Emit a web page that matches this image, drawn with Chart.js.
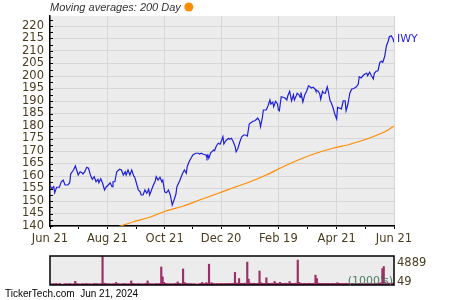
<!DOCTYPE html>
<html>
<head>
<meta charset="utf-8">
<script src="https://cdn.jsdelivr.net/npm/chart.js@4"></script>
<style>
  html, body { margin: 0; padding: 0; background: #ffffff; }
  #wrap { position: relative; width: 450px; height: 300px; overflow: hidden; }
  #main { position: absolute; left: 0; top: 0; }
  #vol { position: absolute; left: 0; top: 250px; }
</style>
</head>
<body>
<div id="wrap">
  <canvas id="main" width="450" height="250"></canvas>
  <canvas id="vol" width="450" height="50"></canvas>
</div>
<script>
// ---- DATA ----
const symbol = 'IWY';
const maLabel = 'Moving averages: 200 Day';
const footerText = 'TickerTech.com  Jun 21, 2024';
const volUnitText = "(1000's)";

// x tick days (calendar days after Jun 21, 2023) and labels
const xTickDays = [0, 61, 122, 182, 243, 305, 366];
const xTickLabels = ['Jun 21', 'Aug 21', 'Oct 21', 'Dec 20', 'Feb 19', 'Apr 21', 'Jun 21'];

// price (days after Jun 21, 2023)
const priceDays = [
  0,2,4,5,7,10,12,14,16,19,21,22,25,27,30,32,34,35,37,39,41,43,45,47,49,51,52,54,56,58,
  60,62,64,66,67,69,71,74,76,78,80,81,83,85,87,89,90,92,94,96,97,99,101,103,105,106,108,110,112,113,
  115,117,119,120,122,124,126,128,129,130,132,134,135,138,141,143,145,146,148,150,152,155,158,159,161,163,166,167,168,169,
  171,174,175,177,179,181,182,184,185,187,190,191,193,195,197,198,200,202,204,206,208,210,212,213,216,218,220,221,223,224,
  226,227,230,232,234,235,237,238,240,242,243,244,246,248,250,252,253,255,257,259,260,262,263,265,266,267,269,271,273,275,
  276,278,280,282,283,285,287,288,290,291,293,295,296,298,299,301,303,305,306,308,310,312,314,315,317,319,321,322,324,326,
  328,329,331,333,335,337,338,340,342,344,345,347,349,351,353,354,356,358,360,361,363,365,366
];
const priceValues = [
  156.1,155.0,155.7,153.3,155.5,155.5,157.7,158.4,156.4,156.4,157.3,160.8,162.4,164.0,160.4,161.7,161.3,160.8,161.7,163.5,163.1,160.4,158.7,159.7,157.7,158.7,157.3,158.9,157.1,154.4,
  155.7,156.4,157.3,155.7,157.7,157.7,161.7,162.7,162.4,160.4,161.7,160.4,162.4,160.4,162.4,160.0,159.7,157.1,154.4,153.7,152.4,152.4,154.4,153.1,154.7,152.4,154.4,156.4,158.0,159.7,
  158.4,159.5,157.7,158.4,153.7,153.3,154.4,152.4,150.4,148.4,150.4,152.8,155.7,158.1,161.0,162.4,161.1,163.7,165.7,167.1,168.4,169.1,169.1,168.8,169.1,168.7,168.4,167.3,168.4,167.1,
  169.3,170.4,170.1,172.0,173.1,172.7,173.7,175.7,172.8,174.1,175.1,174.7,175.1,173.7,171.7,169.7,171.1,173.7,175.7,176.4,176.4,176.0,180.8,181.1,181.9,182.1,182.8,183.2,181.9,179.7,
  183.5,186.4,186.4,188.1,190.4,188.8,189.5,187.7,189.9,188.8,186.4,186.1,191.7,191.5,191.2,190.4,192.1,193.9,190.1,192.5,190.4,192.1,193.1,192.5,191.5,193.5,189.6,192.4,193.9,196.1,
  195.9,195.2,195.5,194.8,193.9,194.1,192.8,190.7,193.9,193.3,193.1,195.7,194.1,190.1,189.5,187.5,184.8,182.8,187.5,187.2,186.8,190.1,190.1,186.1,188.8,193.1,194.8,194.8,195.2,195.7,
  196.8,199.7,199.2,200.1,200.8,201.1,200.1,201.5,200.1,198.8,201.1,201.9,202.1,205.5,205.9,205.5,207.7,212.1,214.1,215.7,216.1,214.8,213.5
];

// 200-day moving average
const maDays = [71, 89, 106, 124, 142, 159, 177, 195, 213, 230, 248, 266, 283, 301, 319, 337, 354, 361, 366];
const maValues = [139.5, 141.7, 143.5, 146.1, 148.0, 150.4, 152.8, 155.3, 157.7, 160.4, 163.7, 166.7, 169.1, 171.1, 172.7, 174.8, 177.3, 178.7, 180.0];

// daily volume (1000's), one per trading day
const volume = [
  210,180,230,195,260,170,220,240,150,90,200,230,185,210,250,190,175,220,620,240,
  200,185,160,230,210,195,240,220,180,205,170,190,260,230,215,200,185,240,4889,310,
  260,230,200,215,190,175,240,210,430,230,200,180,220,195,250,210,185,230,200,690,
  280,230,210,190,240,205,220,180,200,230,250,690,260,220,200,185,210,240,230,195,
  260,3040,1380,450,280,240,215,200,230,190,210,250,230,520,280,240,220,2700,420,300,
  250,230,210,240,200,190,220,49,180,210,260,430,240,230,400,280,3510,300,380,260,
  240,220,250,230,210,270,240,220,260,230,250,280,240,300,270,2130,350,280,1090,300,
  270,250,310,280,3860,990,330,280,260,300,270,250,290,2350,380,300,260,280,1210,320,
  280,260,300,270,600,310,280,250,450,290,260,280,300,270,250,570,300,280,260,290,
  310,4200,430,300,280,260,290,270,250,300,280,260,290,270,1660,1090,320,290,270,260,
  280,250,270,290,260,240,280,270,250,260,400,280,260,240,270,250,280,260,240,230,
  250,270,240,260,230,250,270,240,260,250,230,240,260,250,270,240,230,250,260,280,
  300,320,360,2770,3110,420,310,280,300,270,330,290
];

// ---- STYLE ----
const plotBg = '#ececec';
const gridColor = '#d6d6d6';
const tickTextColor = '#4a3c20';
const priceColor = '#1f1fdc';
const maColor = '#ff8c00';
const volColor = '#9b2f67';
const tickFont = { family: 'DejaVu Sans', size: 11.5 };

const bgPlugin = {
  id: 'bg',
  beforeDraw(chart) {
    const { ctx, chartArea: a } = chart;
    ctx.save();
    ctx.fillStyle = plotBg;
    ctx.fillRect(a.left, a.top, a.right - a.left, a.bottom - a.top);
    ctx.restore();
  }
};

const mainDeco = {
  id: 'mainDeco',
  afterDraw(chart) {
    const { ctx, chartArea: a } = chart;
    const ys = chart.scales.y;
    ctx.save();
    // inward y ticks
    ctx.strokeStyle = '#000';
    ctx.lineWidth = 1;
    ys.ticks.forEach(t => {
      const py = Math.round(ys.getPixelForValue(t.value)) + 0.5;
      ctx.beginPath();
      ctx.moveTo(a.left, py);
      ctx.lineTo(a.left + 3, py);
      ctx.stroke();
    });
    // title
    ctx.font = 'italic 11px "Liberation Sans", Arial, sans-serif';
    ctx.fillStyle = '#333333';
    ctx.textBaseline = 'middle';
    ctx.textAlign = 'left';
    ctx.fillText(maLabel, a.left, 8);
    const w = ctx.measureText(maLabel).width;
    ctx.fillStyle = maColor;
    ctx.beginPath();
    ctx.arc(a.left + w + 8, 7, 4.5, 0, Math.PI * 2);
    ctx.fill();
    // symbol label at last price point
    const meta = chart.getDatasetMeta(0);
    const last = meta.data[meta.data.length - 1];
    ctx.font = '11px "DejaVu Sans", sans-serif';
    ctx.fillStyle = priceColor;
    ctx.fillText(symbol, last.x + 3, last.y - 3);
    ctx.restore();
  }
};

new Chart(document.getElementById('main'), {
  type: 'line',
  data: {
    datasets: [
      {
        label: symbol,
        data: priceDays.map((d, i) => ({ x: d, y: priceValues[i] })),
        borderColor: priceColor,
        borderWidth: 1.2,
        pointRadius: 0,
        tension: 0
      },
      {
        label: '200 Day',
        data: maDays.map((d, i) => ({ x: d, y: maValues[i] })),
        borderColor: maColor,
        borderWidth: 1.2,
        pointRadius: 0,
        tension: 0.3
      }
    ]
  },
  options: {
    responsive: false,
    animation: false,
    devicePixelRatio: 1,
    layout: { padding: { left: 0, right: 56, top: 16, bottom: 0 } },
    plugins: { legend: { display: false }, tooltip: { enabled: false } },
    scales: {
      x: {
        type: 'linear',
        min: xTickDays[0],
        max: xTickDays[xTickDays.length - 1],
        afterBuildTicks(s) {
          const t = [];
          xTickDays.forEach((d, i) => {
            t.push({ value: d });
            if (i < xTickDays.length - 1) t.push({ value: (d + xTickDays[i + 1]) / 2 });
          });
          s.ticks = t;
        },
        afterFit(s) { s.height = 24; },
        ticks: {
          autoSkip: false,
          maxRotation: 0,
          padding: 3,
          font: tickFont,
          color: tickTextColor,
          callback(v) {
            const k = xTickDays.indexOf(v);
            return k >= 0 ? xTickLabels[k] : '';
          }
        },
        grid: {
          color: c => (c.tick && xTickDays.includes(c.tick.value)) ? gridColor : 'rgba(0,0,0,0)',
          tickColor: '#000',
          tickLength: 3,
          drawTicks: true
        },
        border: { color: '#000', width: 1.5 }
      },
      y: {
        min: 140,
        max: 224,
        afterBuildTicks(s) {
          const t = [];
          for (let v = 140; v <= 222.5; v += 2.5) t.push({ value: v });
          s.ticks = t;
        },
        afterFit(s) { s.width = 50; },
        ticks: {
          autoSkip: false,
          padding: 6,
          font: tickFont,
          color: tickTextColor,
          callback: v => (v % 5 === 0 ? String(v) : '')
        },
        grid: {
          color: c => (c.tick && c.tick.value % 5 === 0) ? gridColor : 'rgba(0,0,0,0)',
          drawTicks: false
        },
        border: { color: '#000', width: 1.5 }
      }
    }
  },
  plugins: [bgPlugin, mainDeco]
});

const volMax = Math.max(...volume);
const volMin = Math.min(...volume);

const volDeco = {
  id: 'volDeco',
  afterDraw(chart) {
    const { ctx, chartArea: a } = chart;
    ctx.save();
    ctx.strokeStyle = '#000';
    ctx.lineWidth = 1.5;
    ctx.strokeRect(a.left, a.top, a.right - a.left, a.bottom - a.top);
    ctx.font = '11.5px "DejaVu Sans", sans-serif';
    ctx.fillStyle = tickTextColor;
    ctx.textAlign = 'left';
    ctx.textBaseline = 'middle';
    ctx.fillText(String(volMax), a.right + 3, a.top + 7);
    ctx.fillText(String(volMin), a.right + 3, a.bottom - 3);
    ctx.font = '11px "DejaVu Sans", sans-serif';
    ctx.fillStyle = '#4e7f62';
    ctx.textAlign = 'right';
    ctx.fillText(volUnitText, a.right - 1, a.bottom - 4);
    ctx.font = '10px "Liberation Sans", Arial, sans-serif';
    ctx.fillStyle = '#000';
    ctx.textAlign = 'left';
    ctx.fillText(footerText, 5, 44.5);
    ctx.restore();
  }
};

new Chart(document.getElementById('vol'), {
  type: 'bar',
  data: {
    labels: volume.map((_, i) => i),
    datasets: [{
      data: volume,
      backgroundColor: volColor,
      borderWidth: 0,
      barThickness: 1.5
    }]
  },
  options: {
    responsive: false,
    animation: false,
    devicePixelRatio: 1,
    layout: { padding: { left: 50, right: 56, top: 6, bottom: 15 } },
    plugins: { legend: { display: false }, tooltip: { enabled: false } },
    scales: {
      x: { display: false },
      y: { display: false, min: 0, max: volMax }
    }
  },
  plugins: [bgPlugin, volDeco]
});
</script>
</body>
</html>
